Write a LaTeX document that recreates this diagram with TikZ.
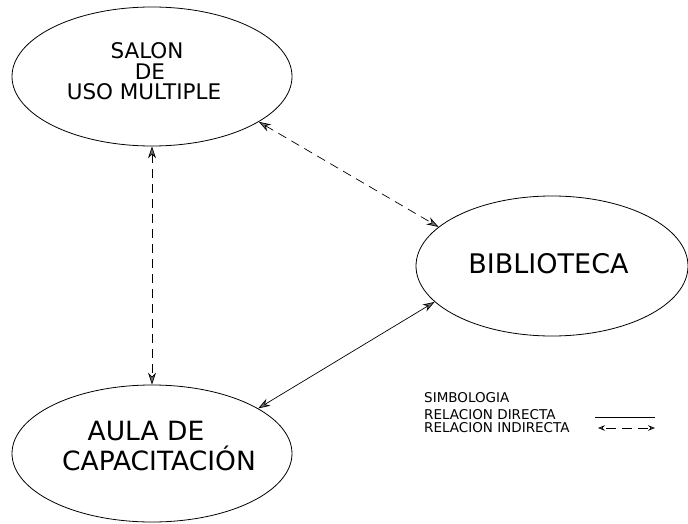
\documentclass[tikz,border=0pt]{standalone}
\usepackage{fontspec}
\setmainfont{DejaVu Sans}
\usetikzlibrary{shapes.geometric,arrows.meta}
\begin{document}
\begin{tikzpicture}[x=1pt,y=-1pt,
  oval/.style={ellipse,draw,line width=0.8pt,inner sep=0pt},
  lbl/.style={anchor=base,inner sep=0pt},
  tipA/.tip={Stealth[length=12pt,width=8pt,inset=4pt,line width=0.7pt,fill=black!55]},
  tipS/.tip={Stealth[length=7pt,width=5.5pt,inset=2.5pt,line width=0.6pt,fill=black!55]},
  rel/.style={line width=0.7pt,tipA-tipA},
  indirect/.style={rel,dash pattern=on 9pt off 6pt},
  direct/.style={rel}]
\useasboundingbox (0,0) rectangle (688,524);
% ellipses
\node[oval,minimum width=280pt,minimum height=139pt] (salon) at (152,76.5) {};
\node[oval,minimum width=272pt,minimum height=140pt] (biblio) at (552,266) {};
\node[oval,minimum width=280pt,minimum height=137pt] (aula) at (152,453.5) {};
% labels
\node[lbl,font=\fontsize{21.5}{21.5}\selectfont] (s1) at (147,59) {SALON};
\node[lbl,font=\fontsize{21.5}{21.5}\selectfont] (s2) at (150,80) {DE};
\node[lbl,font=\fontsize{21.5}{21.5}\selectfont] (s3) at (144,100) {USO MULTIPLE};
\node[lbl,font=\fontsize{27}{27}\selectfont] (b1) at (548.5,273) {BIBLIOTECA};
\node[lbl,font=\fontsize{26.5}{26.5}\selectfont] (a1) at (146,440) {AULA DE};
\node[lbl,font=\fontsize{26.5}{26.5}\selectfont] (a2) at (159,470) {CAPACITACIÓN};
% connectors
\draw[indirect] (salon.-90) -- (aula.90);
\draw[indirect] (salon.-23.7) -- (biblio.161.7);
\draw[direct] (biblio.197.5) -- (aula.23.3);
% legend
\node[anchor=base west,inner sep=0pt,font=\fontsize{13.5}{13.5}\selectfont] (t1) at (424,402) {SIMBOLOGIA};
\node[anchor=base west,inner sep=0pt,font=\fontsize{13.5}{13.5}\selectfont] (t2) at (424,419) {RELACION DIRECTA};
\node[anchor=base west,inner sep=0pt,font=\fontsize{13.5}{13.5}\selectfont] (t3) at (424,432) {RELACION INDIRECTA};
\coordinate (d1) at (595,417);
\coordinate (d2) at (655,417);
\coordinate (i1) at (598,428);
\coordinate (i2) at (655,428);
\draw[line width=0.7pt] (d1) -- (d2);
\draw[line width=0.7pt,tipS-tipS,dash pattern=on 10pt off 6pt,dash phase=-4pt] (i1) -- (i2);
\end{tikzpicture}
\end{document}
